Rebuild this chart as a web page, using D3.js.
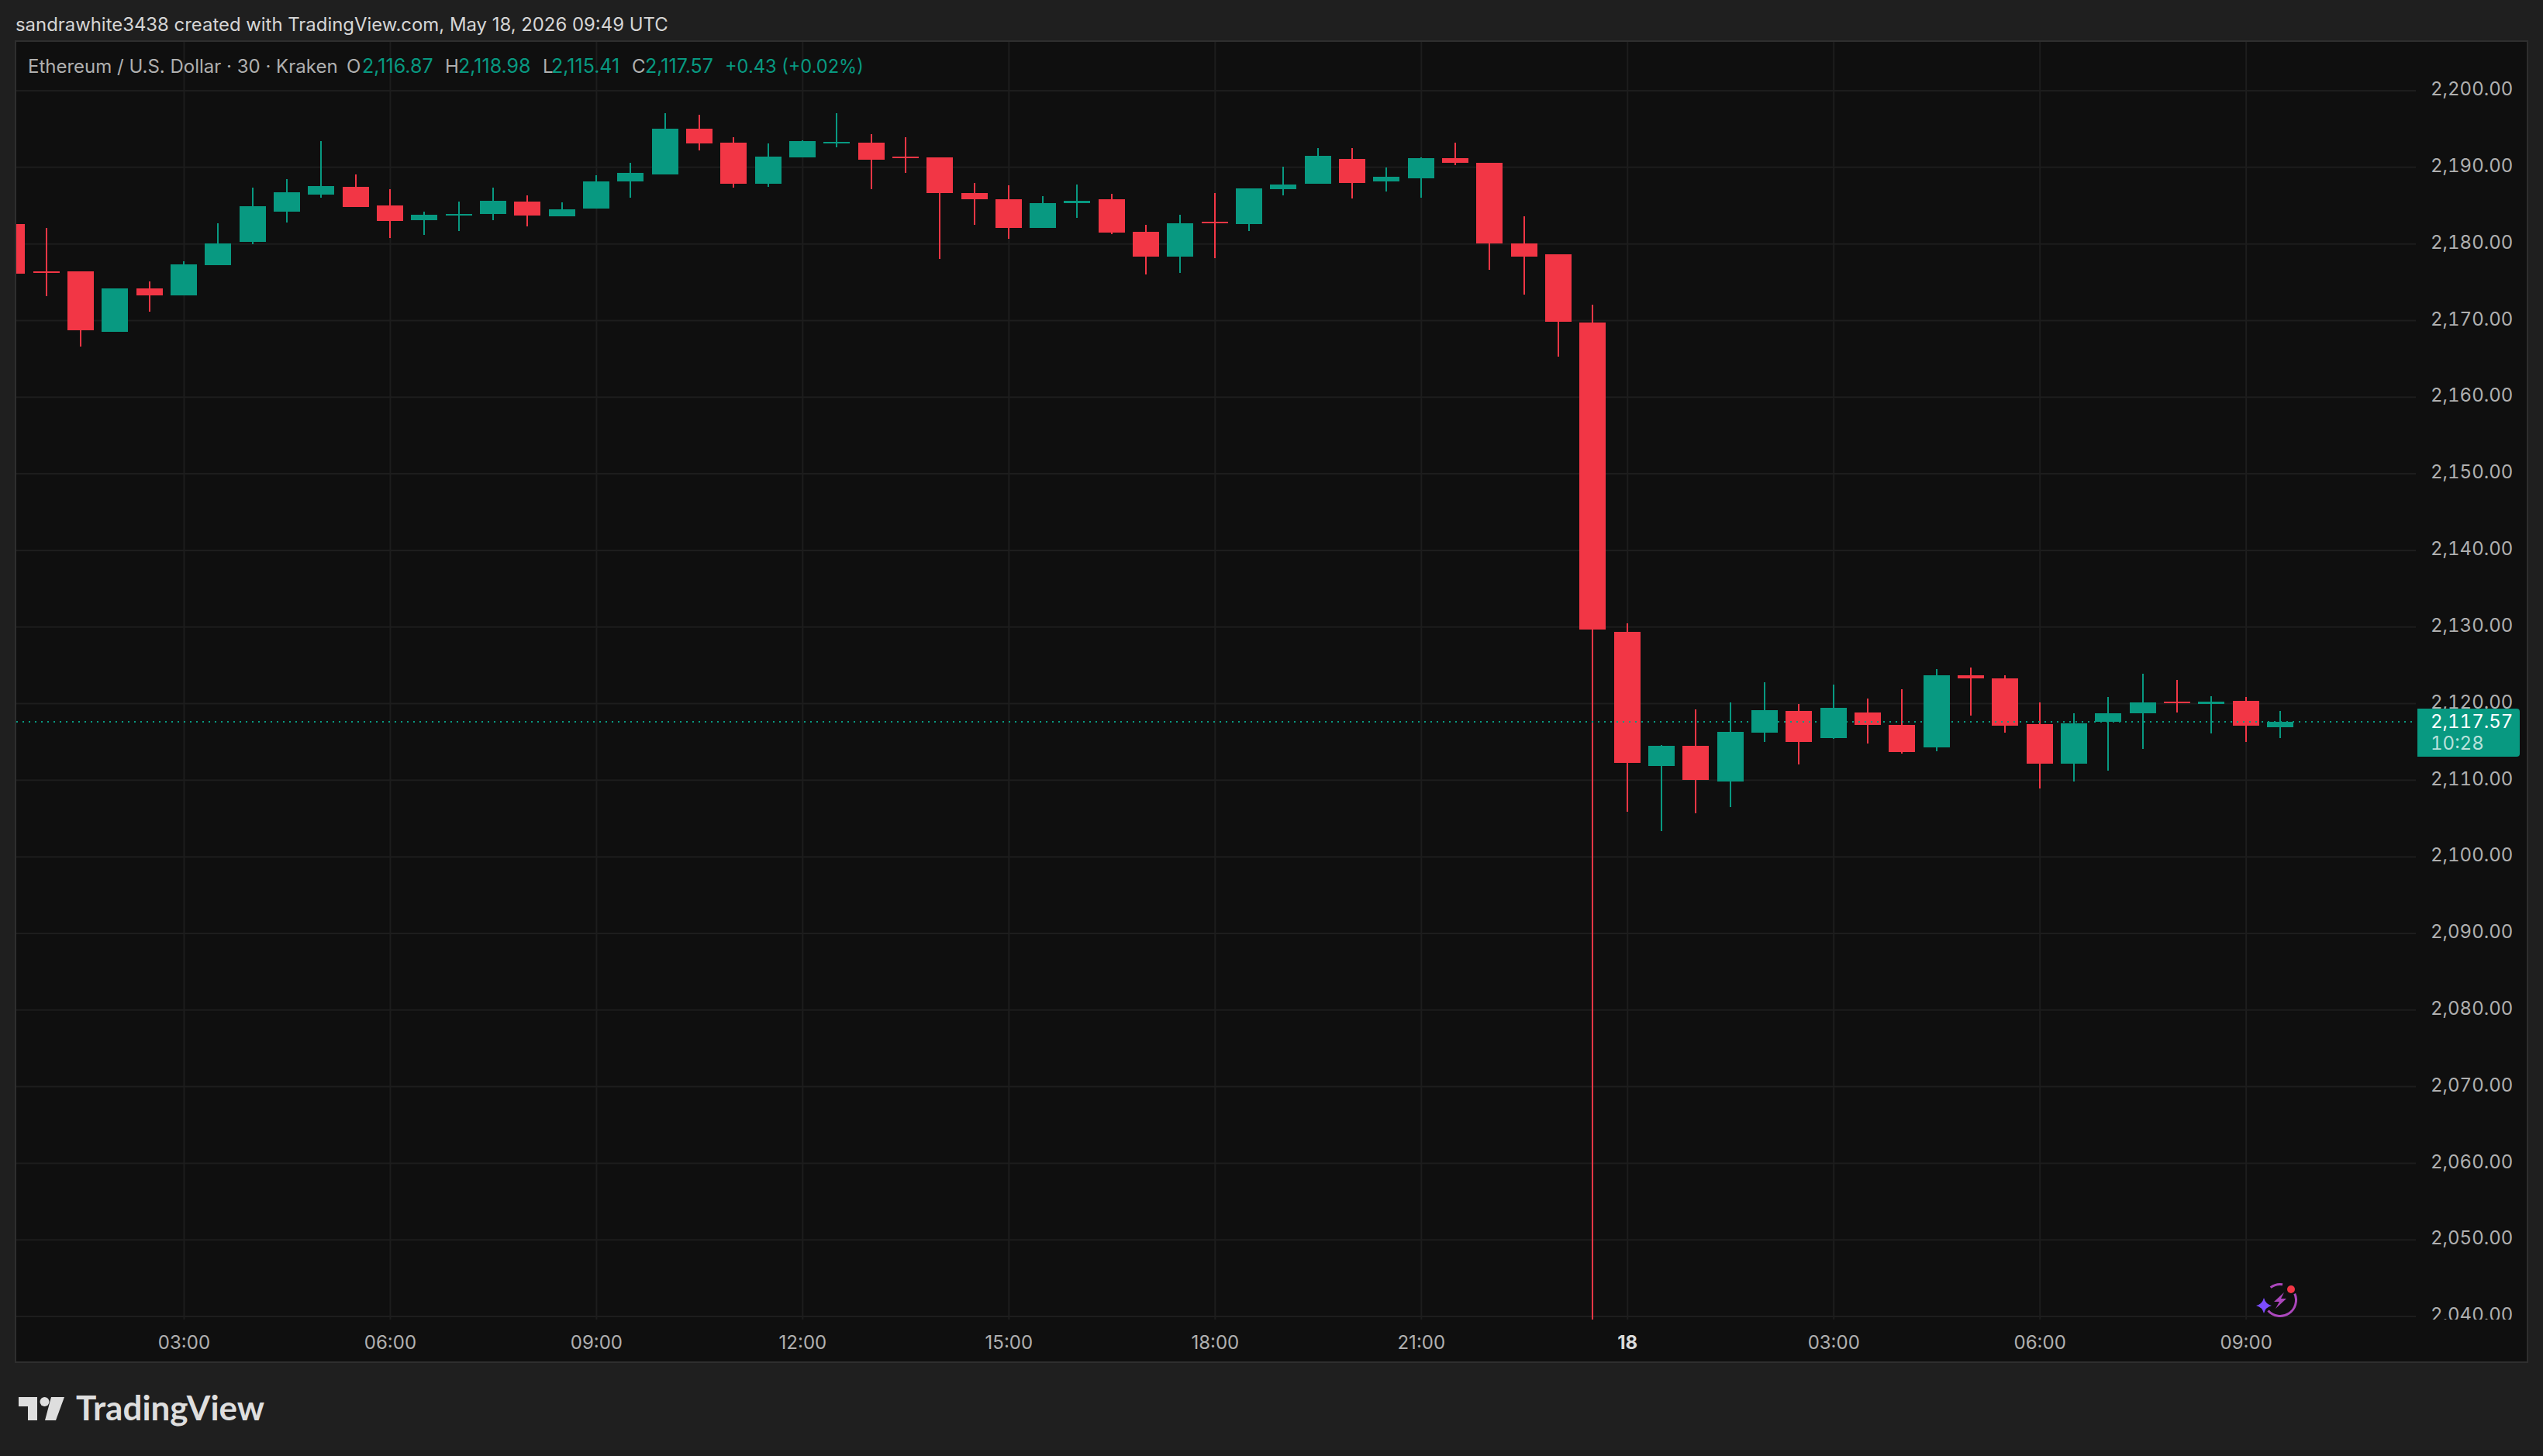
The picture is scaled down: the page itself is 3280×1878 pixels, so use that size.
<!DOCTYPE html>
<html>
<head>
<meta charset="utf-8">
<script src="https://cdn.jsdelivr.net/npm/d3@7"></script>
<style>
  html, body { margin: 0; padding: 0; background: #1f1f1f; }
  svg { display: block; font-family: Inter, Roboto, sans-serif; }
  .tick text { font-family: Inter, Roboto, sans-serif; }
  .num, .num text { font-variant-numeric: tabular-nums; }
</style>
</head>
<body>
<div id="chart"></div>
<script>
// ETH/USD 30 min candles
var times = [
  "05-17 00:30","05-17 01:00","05-17 01:30","05-17 02:00","05-17 02:30","05-17 03:00","05-17 03:30","05-17 04:00",
  "05-17 04:30","05-17 05:00","05-17 05:30","05-17 06:00","05-17 06:30","05-17 07:00","05-17 07:30","05-17 08:00",
  "05-17 08:30","05-17 09:00","05-17 09:30","05-17 10:00","05-17 10:30","05-17 11:00","05-17 11:30","05-17 12:00",
  "05-17 12:30","05-17 13:00","05-17 13:30","05-17 14:00","05-17 14:30","05-17 15:00","05-17 15:30","05-17 16:00",
  "05-17 16:30","05-17 17:00","05-17 17:30","05-17 18:00","05-17 18:30","05-17 19:00","05-17 19:30","05-17 20:00",
  "05-17 20:30","05-17 21:00","05-17 21:30","05-17 22:00","05-17 22:30","05-17 23:00","05-17 23:30","05-18 00:00",
  "05-18 00:30","05-18 01:00","05-18 01:30","05-18 02:00","05-18 02:30","05-18 03:00","05-18 03:30","05-18 04:00",
  "05-18 04:30","05-18 05:00","05-18 05:30","05-18 06:00","05-18 06:30","05-18 07:00","05-18 07:30","05-18 08:00",
  "05-18 08:30","05-18 09:00","05-18 09:30"
]
var opens = [
  2182.53,2176.36,2176.36,2168.48,2174.14,2173.23,2177.17,2180.2,2184.14,2186.36,2187.37,2184.95,2183.03,2183.64,2183.84,2185.45,2183.54,2184.55,2188.08,
  2188.99,2194.95,2193.13,2187.78,2191.21,2193.03,2193.13,2191.31,2191.21,2186.57,2185.76,2182.02,2185.25,2185.76,2181.51,2178.28,2182.83,2182.53,
  2187.07,2187.78,2191.01,2188.08,2188.48,2191.11,2190.51,2180.0,2178.59,2169.7,
  2129.29,2111.82,2114.44,2109.8,2116.16,2118.99,2115.45,2118.79,2117.17,2114.24,2123.64,2123.23,2117.27,2112.12,2117.57,2118.69,2120.2,2119.9,2120.3,2116.87
]
var highs = [
  2182.53,2182.02,2176.36,2174.14,2175.05,2177.68,2182.63,2187.27,2188.38,2193.33,2188.99,2187.07,2184.14,2185.45,2187.27,2186.26,2185.35,2188.89,2190.5,
  2196.97,2196.77,2193.84,2193.03,2193.43,2196.97,2194.24,2193.84,2191.21,2187.88,2187.58,2186.16,2187.68,2186.46,2182.42,2183.74,2186.57,2187.17,
  2190.0,2192.42,2192.42,2189.9,2191.21,2193.13,2190.51,2183.54,2178.59,2172.02,
  2130.4,2114.55,2119.19,2120.1,2122.73,2119.9,2122.42,2120.6,2121.82,2124.44,2124.65,2123.64,2120.1,2118.69,2120.81,2123.84,2123.03,2120.91,2120.81,2118.98
]
var lows = [
  2176.06,2173.13,2166.57,2168.48,2171.11,2173.23,2177.17,2179.9,2182.73,2185.96,2184.75,2180.71,2181.11,2181.62,2183.03,2182.22,2183.54,2184.55,2185.96,
  2188.99,2192.12,2187.27,2187.37,2191.21,2192.53,2187.07,2189.19,2177.98,2182.42,2180.61,2182.02,2183.33,2181.21,2175.96,2176.16,2178.08,2181.62,
  2186.26,2187.78,2185.86,2186.77,2185.96,2190.2,2176.57,2173.33,2165.2,2039.5,
  2105.86,2103.33,2105.66,2106.46,2114.95,2112.02,2115.35,2114.75,2113.43,2113.74,2118.38,2116.16,2108.89,2109.8,2111.21,2114.04,2118.79,2116.06,2114.95,2115.41
]
var closes = [
  2176.06,2176.16,2168.69,2174.14,2173.23,2177.27,2180.0,2184.85,2186.67,2187.47,2184.75,2182.93,2183.74,2183.84,2185.56,2183.64,2184.44,2188.08,2189.19,
  2194.95,2193.03,2187.78,2191.31,2193.33,2193.23,2190.91,2191.11,2186.57,2185.76,2182.02,2185.25,2185.56,2181.41,2178.28,2182.63,2182.63,2187.17,
  2187.68,2191.41,2187.88,2188.69,2191.11,2190.51,2180.0,2178.28,2169.8,2129.6,
  2112.22,2114.44,2110.0,2116.26,2119.09,2114.95,2119.39,2117.17,2113.64,2123.64,2123.23,2117.07,2112.12,2117.37,2118.69,2120.1,2120.0,2120.2,2117.07,2117.57
]
var priceTicks = [2040,2050,2060,2070,2080,2090,2100,2110,2120,2130,2140,2150,2160,2170,2180,2190,2200]
var timeTicks = ["05-17 03:00","05-17 06:00","05-17 09:00","05-17 12:00","05-17 15:00","05-17 18:00","05-17 21:00","05-18 00:00","05-18 03:00","05-18 06:00","05-18 09:00"]
var timeLabels = ["03:00","06:00","09:00","12:00","15:00","18:00","21:00","18","03:00","06:00","09:00"]
var lastPrice = 2117.57
var lastLabel = "2,117.57"
var countdown = "10:28"
var titleText = "sandrawhite3438 created with TradingView.com, May 18, 2026 09:49 UTC"
var legendName = "Ethereum / U.S. Dollar · 30 · Kraken"
var legendKeys = ["O","H","L","C"]
var legendVals = ["2,116.87","2,118.98","2,115.41","2,117.57"]
var legendChange = "+0.43 (+0.02%)"

var width = 3280, height = 1878
var pane = { left: 21, top: 54, right: 3116, bottom: 1702 }
var UP = "#089981", DOWN = "#f23645", GRID = "#1d1d1d", TEXT = "#b0b0b0", BG = "#0f0f0f", OUTER = "#1f1f1f", EDGE = "#2e2e2e"
var bodyWidth = 34, wickWidth = 2

var parseTime = d3.utcParse("%Y-%m-%d %H:%M")
var toDate = function(s){ return parseTime("2026-" + s) }
var candles = times.map(function(t, i){
  return { t: toDate(t), o: opens[i], h: highs[i], l: lows[i], c: closes[i] }
})

var x = d3.scaleUtc().domain([toDate(times[0]), toDate(times[times.length-1])]).range([15.3, 2941])
var y = d3.scaleLinear().domain([2040, 2200]).range([1697.5, 116.5])

var svg = d3.select("#chart").append("svg")
  .attr("width", width).attr("height", height)
  .attr("viewBox", "0 0 " + width + " " + height)
svg.append("rect").attr("width", width).attr("height", height).attr("fill", OUTER)
svg.append("rect")
  .attr("x", 20).attr("y", 53).attr("width", 3240).attr("height", 1704)
  .attr("fill", BG).attr("stroke", EDGE).attr("stroke-width", 2)

var defs = svg.append("defs")
defs.append("clipPath").attr("id", "paneClip").append("rect")
  .attr("x", pane.left).attr("y", pane.top).attr("width", pane.right-pane.left).attr("height", pane.bottom-pane.top)
defs.append("clipPath").attr("id", "axisClip").append("rect")
  .attr("x", pane.right).attr("y", pane.top).attr("width", 3259-pane.right).attr("height", pane.bottom-pane.top)

// grid
var gridX = d3.axisBottom(x).tickValues(timeTicks.map(toDate)).tickSize(pane.top-pane.bottom).tickFormat("")
var gridY = d3.axisLeft(y).tickValues(priceTicks).tickSize(pane.left-pane.right).tickFormat("")
var grid = svg.append("g").attr("clip-path", "url(#paneClip)")
grid.append("g").attr("transform", "translate(0," + pane.bottom + ")").call(gridX)
grid.append("g").attr("transform", "translate(" + pane.left + ",0)").call(gridY)
grid.selectAll(".domain").remove()
grid.selectAll("line").attr("stroke", GRID).attr("stroke-width", 2)

// candles
var marks = svg.append("g").attr("clip-path", "url(#paneClip)").attr("shape-rendering", "crispEdges")
var candle = marks.selectAll("g.candle").data(candles).enter().append("g").attr("class", "candle")
  .attr("fill", function(d){ return d.c >= d.o ? UP : DOWN })
candle.append("rect")
  .attr("x", function(d){ return Math.round(x(d.t)) - wickWidth/2 })
  .attr("width", wickWidth)
  .attr("y", function(d){ return y(d.h) })
  .attr("height", function(d){ return y(d.l) - y(d.h) })
candle.append("rect")
  .attr("x", function(d){ return Math.round(x(d.t)) - bodyWidth/2 })
  .attr("width", bodyWidth)
  .attr("y", function(d){ return y(Math.max(d.o, d.c)) })
  .attr("height", function(d){ return Math.max(2, Math.abs(y(d.o) - y(d.c))) })

// last price line
svg.append("line")
  .attr("x1", pane.left).attr("x2", pane.right)
  .attr("y1", y(lastPrice)).attr("y2", y(lastPrice))
  .attr("stroke", UP).attr("stroke-width", 2).attr("stroke-dasharray", "2,6")

// axes
var priceAxis = d3.axisRight(y).tickValues(priceTicks).tickSize(0).tickPadding(0).tickFormat(d3.format(",.2f"))
var gPrice = svg.append("g").attr("clip-path", "url(#axisClip)").append("g")
  .attr("class", "num").attr("transform", "translate(3135,-1.5)").call(priceAxis)
gPrice.select(".domain").remove()
gPrice.selectAll("text").attr("fill", TEXT).attr("font-size", 24)

var timeAxis = d3.axisBottom(x).tickValues(timeTicks.map(toDate)).tickSize(0).tickPadding(0)
  .tickFormat(function(d, i){ return timeLabels[i] })
var gTime = svg.append("g").attr("transform", "translate(0,1723)").call(timeAxis)
gTime.select(".domain").remove()
gTime.selectAll("text").attr("fill", TEXT).attr("font-size", 24)
gTime.selectAll("text").filter(function(d, i){ return timeLabels[i] == "18" })
  .attr("font-weight", 700).attr("fill", "#dbdbdb")

// price tag
svg.append("path")
  .attr("d", "M3118," + 914 + "H3246a4,4 0 0 1 4,4V972a4,4 0 0 1 -4,4H3118Z")
  .attr("fill", UP)
svg.append("text").text(lastLabel).attr("class", "num").attr("x", 3135).attr("y", 939)
  .attr("fill", "#ffffff").attr("font-size", 24)
svg.append("text").text(countdown).attr("class", "num").attr("x", 3135).attr("y", 967)
  .attr("fill", "#ffffff").attr("fill-opacity", 0.72).attr("font-size", 24)

// header + legend
svg.append("text").text(titleText).attr("x", 20).attr("y", 40)
  .attr("fill", "#d6d6d6").attr("font-size", 23.9)
svg.append("text").text(legendName).attr("x", 36).attr("y", 94)
  .attr("fill", TEXT).attr("font-size", 24)
var keyX = [447, 574, 700, 815], valX = [467, 591, 711, 832]
legendKeys.forEach(function(k, i){
  svg.append("text").text(k).attr("x", keyX[i]).attr("y", 94).attr("fill", TEXT).attr("font-size", 24)
  svg.append("text").text(legendVals[i]).attr("x", valX[i]).attr("y", 94).attr("fill", UP).attr("font-size", 25)
})
svg.append("text").text(legendChange).attr("x", 935).attr("y", 94).attr("fill", UP).attr("font-size", 23.6)

// footer logo
var logo = svg.append("g").attr("fill", "#dedede")
logo.append("path").attr("d", "M24,1802H48V1832H36V1814H24Z")
logo.append("circle").attr("cx", 57.5).attr("cy", 1808).attr("r", 6)
logo.append("path").attr("d", "M66,1802H83L72,1832H58Z")
logo.append("text").text("TradingView").attr("x", 98).attr("y", 1832)
  .attr("font-family", "Lato, Inter, sans-serif").attr("font-weight", 700).attr("font-size", 44)

// small assistant icon bottom right
var icon = svg.append("g")
icon.append("path")
  .attr("d", d3.arc().innerRadius(19).outerRadius(22).startAngle(-0.65).endAngle(0.15)())
  .attr("transform", "translate(2941,1677)").attr("fill", "#ab47bc")
icon.append("path")
  .attr("d", d3.arc().innerRadius(19).outerRadius(22).startAngle(1.15).endAngle(4.0)())
  .attr("transform", "translate(2941,1677)").attr("fill", "#ab47bc")
icon.append("path").attr("d", "M2946,1667L2933,1679H2940L2935,1688L2949,1675H2942Z").attr("fill", "#ab47bc")
icon.append("path").attr("d", "M2920,1674Q2922,1682 2930,1684Q2922,1686 2920,1694Q2918,1686 2910,1684Q2918,1682 2920,1674Z").attr("fill", "#7c4dff")
icon.append("circle").attr("cx", 2955).attr("cy", 1663).attr("r", 5).attr("fill", "#f23645")
</script>
</body>
</html>
